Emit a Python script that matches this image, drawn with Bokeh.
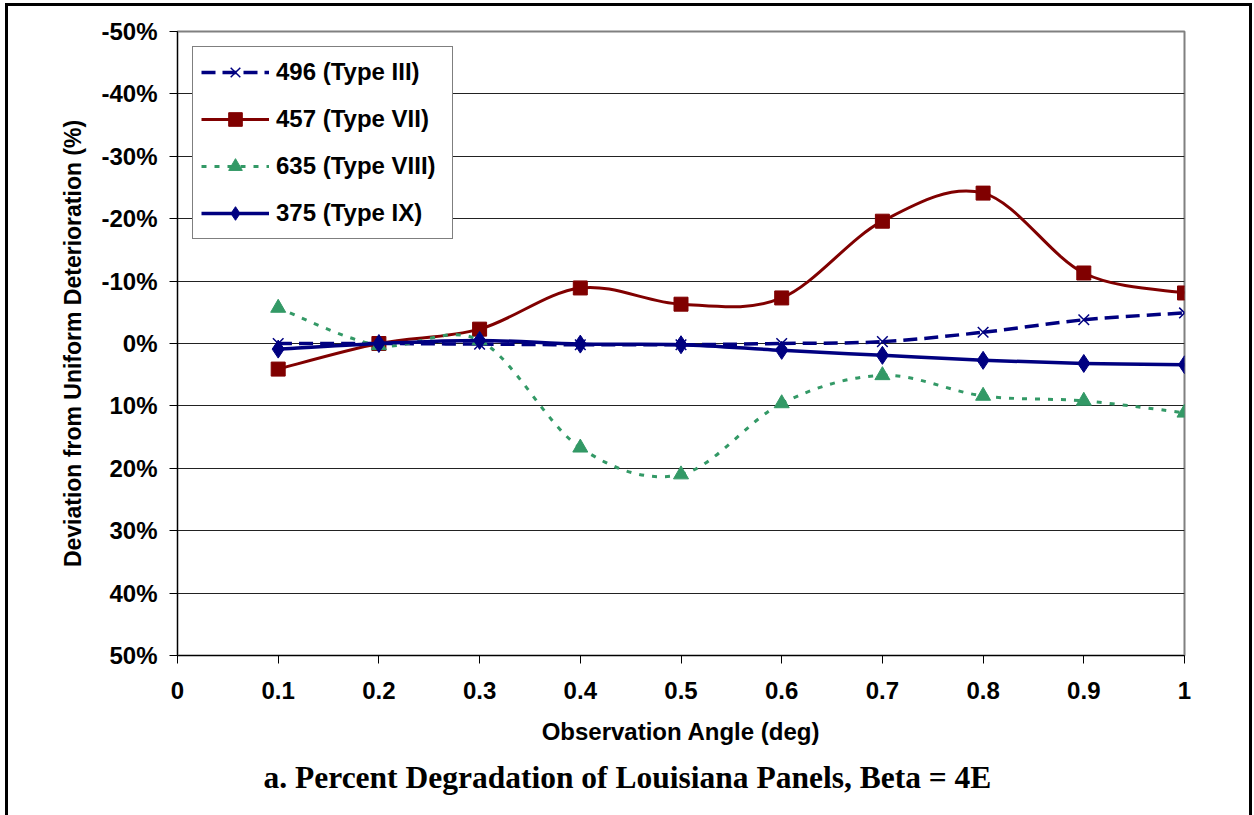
import numpy as np
from bokeh.plotting import figure
from bokeh.models import (Range1d, FixedTicker, Legend, LegendItem, Title,
                          InlineStyleSheet)
from bokeh.embed import file_html
from bokeh.resources import INLINE

# ---- data (percent deviation; positive = below zero line, axis reversed) ----
angles = [0.1, 0.2, 0.3, 0.4, 0.5, 0.6, 0.7, 0.8, 0.9, 1.0]
type_iii_496 = [0.0, 0.0, 0.1, 0.2, 0.2, 0.0, -0.3, -1.8, -3.8, -4.9]
type_vii_457 = [4.1, 0.0, -2.3, -8.9, -6.3, -7.3, -19.6, -24.1, -11.3, -8.1]
type_viii_635 = [-5.7, 0.3, -0.5, 16.7, 21.0, 9.6, 5.1, 8.4, 9.2, 11.1]
type_ix_375 = [0.9, 0.0, -0.5, 0.1, 0.2, 1.1, 1.9, 2.7, 3.2, 3.4]

series_labels = ["496 (Type III)", "457 (Type VII)", "635 (Type VIII)", "375 (Type IX)"]
x_ticks = [0, 0.1, 0.2, 0.3, 0.4, 0.5, 0.6, 0.7, 0.8, 0.9, 1]
x_tick_labels = ["0", "0.1", "0.2", "0.3", "0.4", "0.5", "0.6", "0.7", "0.8", "0.9", "1"]
y_ticks = [-50, -40, -30, -20, -10, 0, 10, 20, 30, 40, 50]
y_tick_labels = ["-50%", "-40%", "-30%", "-20%", "-10%", "0%", "10%", "20%", "30%", "40%", "50%"]

chart_title = "a. Percent Degradation of Louisiana Panels, Beta = 4E"

FONT = "Liberation Sans"


def smooth_segments(xs, ys, t=1.0 / 6.0):
    """Bezier control points (Catmull-Rom style, like spreadsheet smoothing)."""
    n = len(xs)
    out = {k: [] for k in ("x0", "y0", "x1", "y1", "cx0", "cy0", "cx1", "cy1")}
    for i in range(n - 1):
        a = i - 1 if i > 0 else i
        d = i + 2 if i + 2 < n else i + 1
        out["x0"].append(xs[i]); out["y0"].append(ys[i])
        out["x1"].append(xs[i + 1]); out["y1"].append(ys[i + 1])
        out["cx0"].append(xs[i] + (xs[i + 1] - xs[a]) * t)
        out["cy0"].append(ys[i] + (ys[i + 1] - ys[a]) * t)
        out["cx1"].append(xs[i + 1] - (xs[d] - xs[i]) * t)
        out["cy1"].append(ys[i + 1] - (ys[d] - ys[i]) * t)
    return out


p = figure(width=1254, height=815, output_backend="svg", toolbar_location=None,
           x_range=Range1d(0, 1), y_range=Range1d(50, -50),
           min_border_left=177, min_border_right=70, min_border_top=31,
           min_border_bottom=160)
p.background_fill_color = "white"
p.border_fill_color = "white"
p.outline_line_color = "#808080"
p.outline_line_width = 2

# outer page frame (left, top, right; open at the bottom)
p.stylesheets = [InlineStyleSheet(css="""
:host { position: relative; }
:host::after {
  content: ''; position: absolute; left: 5px; top: 3px;
  width: 1247px; height: 812px; box-sizing: border-box;
  border-left: 3px solid black; border-right: 3px solid black;
  border-top: 3px solid black; pointer-events: none; z-index: 10;
}
""")]

# axes
p.xaxis.ticker = FixedTicker(ticks=x_ticks)
p.xaxis.major_label_overrides = dict(zip(x_ticks, x_tick_labels))
p.yaxis.ticker = FixedTicker(ticks=y_ticks)
p.yaxis.major_label_overrides = dict(zip(y_ticks, y_tick_labels))
for ax in (p.xaxis, p.yaxis):
    ax.major_label_text_font = FONT
    ax.major_label_text_font_style = "bold"
    ax.major_label_text_font_size = "24px"
    ax.major_label_text_color = "black"
    ax.axis_label_text_font = FONT
    ax.axis_label_text_font_style = "bold"
    ax.axis_label_text_color = "black"
    ax.axis_line_color = "black"
    ax.axis_line_width = 1
    ax.major_tick_line_color = "black"
    ax.major_tick_out = 8
    ax.major_tick_in = 0
    ax.minor_tick_line_color = None
p.xaxis.axis_label_text_font_size = "24px"
p.yaxis.axis_label_text_font_size = "23px"
p.xaxis.axis_label = "Observation Angle (deg)"
p.yaxis.axis_label = "Deviation from Uniform Deterioration (%)"
p.xaxis.major_label_standoff = 18
p.xaxis.axis_label_standoff = 16
p.yaxis.major_label_standoff = 12
p.yaxis.axis_label_standoff = 12

p.xgrid.grid_line_color = None
p.ygrid.ticker = FixedTicker(ticks=y_ticks)
p.ygrid.grid_line_color = "#222222"
p.ygrid.grid_line_width = 1

NAVY = "#000080"
DRED = "#800000"
GREEN = "#339966"

styles = [
    (type_iii_496, NAVY, 3.5, "14 7", "x", 15, NAVY),
    (type_vii_457, DRED, 3, "solid", "square", 14, DRED),
    (type_viii_635, GREEN, 3, "5 8", "triangle", 15, GREEN),
    (type_ix_375, NAVY, 3.5, "solid", "diamond", 18, NAVY),
]

items = []
for (vals, col, lw, dash, marker, size, mcol), lab in zip(styles, series_labels):
    seg = smooth_segments(angles, vals)
    bz = p.bezier(x0=seg["x0"], y0=seg["y0"], x1=seg["x1"], y1=seg["y1"],
                  cx0=seg["cx0"], cy0=seg["cy0"], cx1=seg["cx1"], cy1=seg["cy1"],
                  line_color=col, line_width=lw, line_dash=dash)
    if marker == "x":
        sc = p.scatter(angles, vals, marker=marker, size=size, line_color=mcol,
                       line_width=1.5, fill_color=None)
    else:
        sc = p.scatter(angles, vals, marker=marker, size=size, line_color=mcol,
                       fill_color=mcol, line_width=1)
    items.append(LegendItem(label=lab, renderers=[bz, sc]))

legend = Legend(items=items, location="top_left", margin=15, padding=8,
                glyph_width=68, glyph_height=34, label_height=34, spacing=13,
                label_standoff=7, label_width=168, label_text_font=FONT,
                label_text_font_style="bold", label_text_font_size="24px",
                label_text_color="black", border_line_color="black",
                border_line_width=1, background_fill_color="white",
                background_fill_alpha=1.0)
p.add_layout(legend, "center")

# chart caption below the plot
p.add_layout(Title(text=chart_title, align="left", vertical_align="top",
                   offset=86, standoff=25,
                   text_font="Liberation Serif", text_font_style="bold",
                   text_font_size="31.5px", text_color="black"), "below")

open("out.html", "w").write(file_html(p, INLINE))
